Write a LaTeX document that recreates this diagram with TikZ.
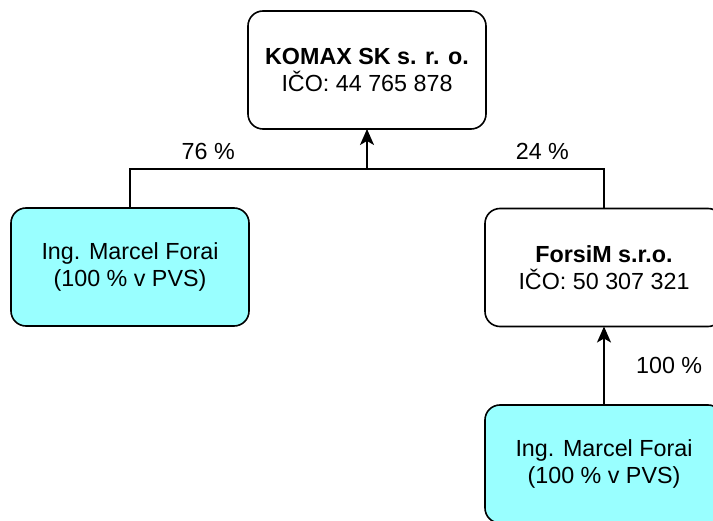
\documentclass[tikz,border=0pt]{standalone}
\usepackage{fontspec}
\setmainfont{Liberation Sans}
\usetikzlibrary{arrows.meta}
\definecolor{ownercyan}{HTML}{99FFFF}

\begin{document}
\begin{tikzpicture}[every node/.style={font=\fontsize{23.3}{27}\selectfont,align=center},
	>={Stealth[length=16pt,width=14pt,inset=4pt]}]
				\tikzstyle{firm}=[draw,line width=1.6pt,rounded corners=15pt,minimum width=238pt,minimum height=118pt,outer sep=0pt,fill=white]
				\tikzstyle{owner}=[firm,fill=ownercyan]
				\tikzstyle{link}=[line width=1.6pt]
				\tikzstyle{stake}=[link,->]
				\useasboundingbox (0pt,0pt) rectangle (713pt,-521pt);									% Rahmen
				
				\node (komax) [firm] at (367pt,-70pt) {\textbf{KOMAX SK s. r. o.}\\ IČO: 44 765 878};	% Mutter
				\node (forai1) [owner] at (130pt,-267pt) {Ing. Marcel Forai\\ (100 \% v PVS)};
				\node (forsim) [firm] at (604pt,-267.5pt) {\textbf{ForsiM s.r.o.}\\ IČO: 50 307 321};
				\node (forai2) [owner] at (604pt,-464pt) {Ing. Marcel Forai\\ (100 \% v PVS)};
				
				\coordinate (join) at (367pt,-169pt);													% Knoten
				\draw [link] (forai1.north) |- node[pos=0.665,above=5pt]{76 \%} (join);
				\draw [link] (forsim.north) |- node[pos=0.63,above=5pt]{24 \%} (join);
				\draw [stake] (join) -- (komax.south);
				\draw [stake] (forai2.north) -- node[right=28pt]{100 \%} (forsim.south);
\end{tikzpicture}
\end{document}
